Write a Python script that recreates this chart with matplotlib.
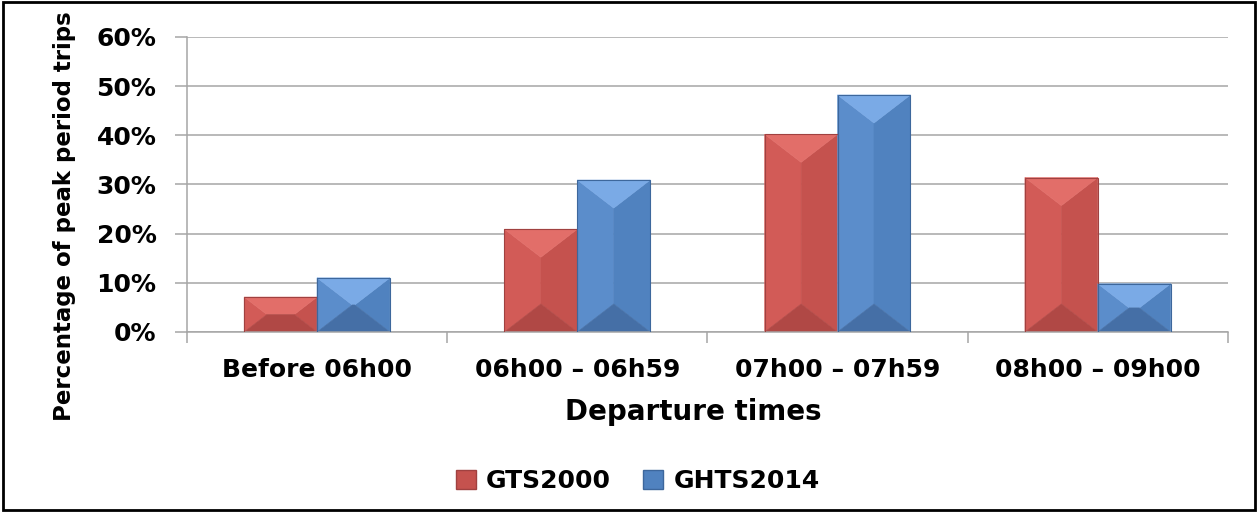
"""Departure times of peak period trips, GTS2000 vs GHTS2014 (bevelled bars)."""
import matplotlib
matplotlib.use("Agg")
import matplotlib.pyplot as plt
from matplotlib.patches import Polygon, Patch, Rectangle
from matplotlib.ticker import FuncFormatter, FixedLocator
import numpy as np

categories = ["Before 06h00", "06h00 \u2013 06h59", "07h00 \u2013 07h59", "08h00 \u2013 09h00"]
series_names = ["GTS2000", "GHTS2014"]
gts2000 = [7.1, 20.9, 40.2, 31.4]
ghts2014 = [11.0, 30.9, 48.2, 9.8]

# face colours per series
PALETTE = {
    "GTS2000": dict(top="#E26E69", bottom="#B04845", left="#D25B57", right="#C5524E", edge="#A04140"),
    "GHTS2014": dict(top="#7AAAE6", bottom="#456FA6", left="#5B8DCB", right="#5082BF", edge="#3D679C"),
}

plt.rcParams["font.family"] = ["DejaVu Sans"]
plt.rcParams["font.weight"] = "bold"

fig = plt.figure(figsize=(12.58, 5.12), dpi=100)
ax = fig.add_axes([0.1486, 0.3516, 0.8275, 0.5762])

x = np.arange(len(categories))
w = 0.28
BEVEL = 5.7  # bevel depth in data units (%)


def bevel_bar(xc, h, c):
    hw = w / 2
    d = min(BEVEL, h / 2)
    dx = hw * d / BEVEL
    x0, x1 = xc - hw, xc + hw
    faces = [
        ([(x0, 0), (x0, h), (x0 + dx, h - d), (x0 + dx, d)], c["left"]),
        ([(x1, 0), (x1, h), (x1 - dx, h - d), (x1 - dx, d)], c["right"]),
        ([(x0, h), (x1, h), (x1 - dx, h - d), (x0 + dx, h - d)], c["top"]),
        ([(x0, 0), (x1, 0), (x1 - dx, d), (x0 + dx, d)], c["bottom"]),
    ]
    for pts, col in faces:
        ax.add_patch(Polygon(pts, closed=True, facecolor=col, edgecolor=col,
                             linewidth=0.4, zorder=2.5))


for name, vals, off in [("GTS2000", gts2000, -w / 2), ("GHTS2014", ghts2014, w / 2)]:
    c = PALETTE[name]
    for xi, v in zip(x + off, vals):
        bevel_bar(xi, v, c)
    ax.bar(x + off, vals, w, facecolor="none", edgecolor=c["edge"], linewidth=0.8, zorder=3)

ax.set_xlim(-0.5, len(categories) - 0.5)
ax.set_ylim(0, 60)
ax.set_yticks(np.arange(0, 61, 10))
ax.yaxis.set_major_formatter(FuncFormatter(lambda v, p: f"{v:.0f}%"))
ax.grid(axis="y", color="#A6A6A6", linewidth=1.1)
ax.set_axisbelow(True)

ax.set_xticks(x)
ax.set_xticklabels(categories)
ax.xaxis.set_minor_locator(FixedLocator(np.arange(-0.5, len(categories), 1.0)))
ax.tick_params(axis="x", which="major", length=0, pad=19, labelsize=18)
ax.tick_params(axis="x", which="minor", length=8, color="#A6A6A6", width=1.1)
ax.tick_params(axis="y", length=9, color="#A6A6A6", width=1.1, pad=13, labelsize=18)

for s in ["top", "right"]:
    ax.spines[s].set_visible(False)
for s in ["left", "bottom"]:
    ax.spines[s].set_color("#A6A6A6")
    ax.spines[s].set_linewidth(1.1)

ax.set_xlabel("Departure times", fontsize=20, fontweight="bold", va="center")
ax.xaxis.set_label_coords(0.486, -0.271)
ax.set_ylabel("Percentage of peak period trips", fontsize=16.5, fontweight="bold", va="center")
ax.yaxis.set_label_coords(-0.118, 0.393)

handles = [Patch(facecolor=PALETTE[n]["right"], edgecolor=PALETTE[n]["edge"], label=n)
           for n in series_names]
fig.legend(handles=handles, loc="center", bbox_to_anchor=(0.507, 0.0605), ncol=2,
           frameon=False, fontsize=18, handlelength=0.8, handleheight=0.8,
           handletextpad=0.4, columnspacing=1.3)

fig.patches.append(Rectangle((0.002, 0.004), 0.996, 0.992, transform=fig.transFigure,
                             fill=False, edgecolor="black", linewidth=2))

fig.savefig("out.png", dpi=100)
